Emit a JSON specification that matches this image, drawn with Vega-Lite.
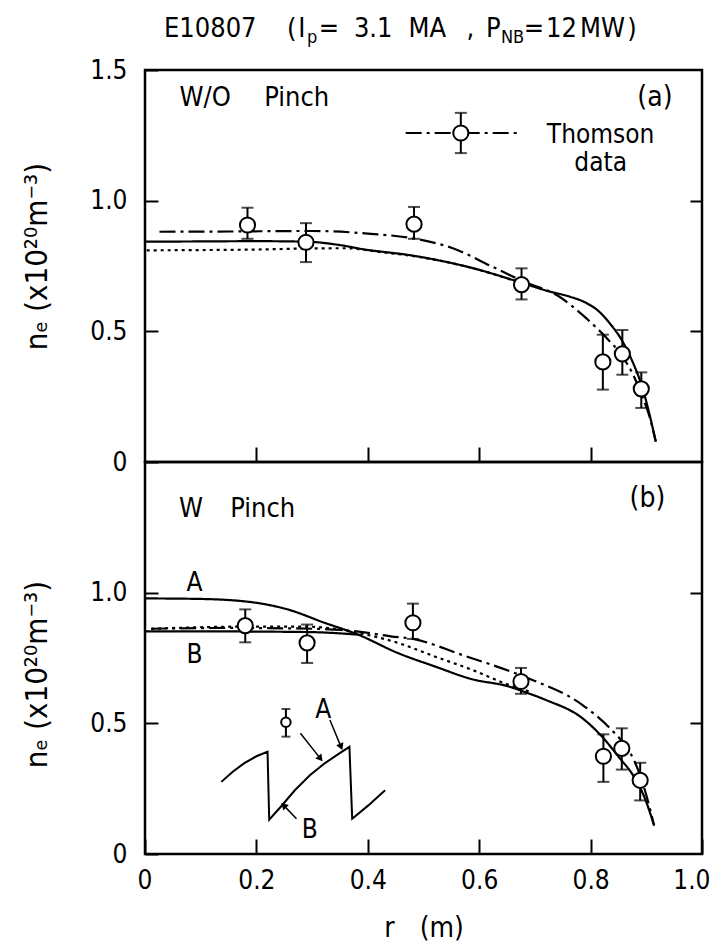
{
  "$schema": "https://vega.github.io/schema/vega-lite/v6.json",
  "padding": {"left": 20, "top": 13, "right": 0, "bottom": 0},
  "autosize": {"type": "pad"},
  "background": "white",
  "spacing": 0,
  "bounds": "flush",
  "config": {
    "font": "DejaVu Sans Condensed, DejaVu Sans, sans-serif",
    "view": {"stroke": "black", "strokeWidth": 2.5},
    "axis": {"domain": false, "grid": false, "tickColor": "black", "tickWidth": 2, "labelColor": "black", "titleColor": "black", "labelFontSize": 26, "titleFontSize": 28, "titleFontWeight": "normal", "labelFont": "DejaVu Sans Condensed, DejaVu Sans, sans-serif", "titleFont": "DejaVu Sans Condensed, DejaVu Sans, sans-serif"}
  },
  "datasets": {
    "a_lines": [
      {"id": "sim", "style": "solid", "r": 0.0, "n": 0.843},
      {"id": "sim", "style": "solid", "r": 0.1, "n": 0.844},
      {"id": "sim", "style": "solid", "r": 0.2, "n": 0.845},
      {"id": "sim", "style": "solid", "r": 0.29, "n": 0.843},
      {"id": "sim", "style": "solid", "r": 0.35, "n": 0.83},
      {"id": "sim", "style": "solid", "r": 0.392, "n": 0.814},
      {"id": "sim", "style": "solid", "r": 0.48, "n": 0.79},
      {"id": "sim", "style": "solid", "r": 0.59, "n": 0.741},
      {"id": "sim", "style": "solid", "r": 0.676, "n": 0.686},
      {"id": "sim", "style": "solid", "r": 0.722, "n": 0.655},
      {"id": "sim", "style": "solid", "r": 0.762, "n": 0.633},
      {"id": "sim", "style": "solid", "r": 0.789, "n": 0.612},
      {"id": "sim", "style": "solid", "r": 0.815, "n": 0.576},
      {"id": "sim", "style": "solid", "r": 0.835, "n": 0.529},
      {"id": "sim", "style": "solid", "r": 0.855, "n": 0.47},
      {"id": "sim", "style": "solid", "r": 0.874, "n": 0.39},
      {"id": "sim", "style": "solid", "r": 0.894, "n": 0.277},
      {"id": "sim", "style": "solid", "r": 0.907, "n": 0.171},
      {"id": "sim", "style": "solid", "r": 0.917, "n": 0.078},
      {"id": "fit", "style": "dashdot", "r": 0.026, "n": 0.881},
      {"id": "fit", "style": "dashdot", "r": 0.15, "n": 0.882},
      {"id": "fit", "style": "dashdot", "r": 0.3, "n": 0.884},
      {"id": "fit", "style": "dashdot", "r": 0.4, "n": 0.874},
      {"id": "fit", "style": "dashdot", "r": 0.48, "n": 0.856},
      {"id": "fit", "style": "dashdot", "r": 0.55, "n": 0.82},
      {"id": "fit", "style": "dashdot", "r": 0.623, "n": 0.748},
      {"id": "fit", "style": "dashdot", "r": 0.68, "n": 0.69},
      {"id": "fit", "style": "dashdot", "r": 0.742, "n": 0.635},
      {"id": "fit", "style": "dashdot", "r": 0.789, "n": 0.556},
      {"id": "fit", "style": "dashdot", "r": 0.828, "n": 0.476},
      {"id": "fit", "style": "dashdot", "r": 0.855, "n": 0.41},
      {"id": "fit", "style": "dashdot", "r": 0.875, "n": 0.34},
      {"id": "fit", "style": "dashdot", "r": 0.893, "n": 0.25},
      {"id": "fit", "style": "dashdot", "r": 0.907, "n": 0.165},
      {"id": "fit", "style": "dashdot", "r": 0.917, "n": 0.078},
      {"id": "dot", "style": "dotted", "r": 0.003, "n": 0.81},
      {"id": "dot", "style": "dotted", "r": 0.1, "n": 0.811},
      {"id": "dot", "style": "dotted", "r": 0.2, "n": 0.813},
      {"id": "dot", "style": "dotted", "r": 0.29, "n": 0.817},
      {"id": "dot", "style": "dotted", "r": 0.36, "n": 0.818},
      {"id": "dot", "style": "dotted", "r": 0.42, "n": 0.804},
      {"id": "dot", "style": "dotted", "r": 0.5, "n": 0.782},
      {"id": "dot", "style": "dotted", "r": 0.6, "n": 0.735},
      {"id": "dot", "style": "dotted", "r": 0.676, "n": 0.684},
      {"id": "leg", "style": "dashdot", "r": 0.468, "n": 1.259},
      {"id": "leg", "style": "dashdot", "r": 0.67, "n": 1.259}
    ],
    "a_pts": [
      {"r": 0.184, "n": 0.907, "lo": 0.854, "hi": 0.973},
      {"r": 0.289, "n": 0.841, "lo": 0.765, "hi": 0.914},
      {"r": 0.483, "n": 0.91, "lo": 0.854, "hi": 0.976},
      {"r": 0.676, "n": 0.679, "lo": 0.622, "hi": 0.741},
      {"r": 0.822, "n": 0.383, "lo": 0.277, "hi": 0.487},
      {"r": 0.857, "n": 0.414, "lo": 0.334, "hi": 0.505},
      {"r": 0.891, "n": 0.28, "lo": 0.207, "hi": 0.343},
      {"r": 0.567, "n": 1.259, "lo": 1.182, "hi": 1.336}
    ],
    "a_text": [
      {"pos": "left", "t": "W/O", "r": 0.062, "n": 1.391},
      {"pos": "left", "t": "Pinch", "r": 0.214, "n": 1.391},
      {"pos": "right", "t": "(a)", "r": 0.947, "n": 1.391},
      {"pos": "center", "t": "Thomson", "r": 0.818, "n": 1.252},
      {"pos": "center", "t": "data", "r": 0.818, "n": 1.146}
    ],
    "title_main": [
      {"t": "E10807", "r": 0.034, "n": 1.626},
      {"t": "(", "r": 0.255, "n": 1.626},
      {"t": "I", "r": 0.275, "n": 1.626},
      {"t": "=", "r": 0.312, "n": 1.626},
      {"t": "3.1", "r": 0.375, "n": 1.626},
      {"t": "MA", "r": 0.473, "n": 1.626},
      {"t": ",", "r": 0.577, "n": 1.626},
      {"t": "P", "r": 0.612, "n": 1.626},
      {"t": "=", "r": 0.68, "n": 1.626},
      {"t": "12", "r": 0.72, "n": 1.626},
      {"t": "MW", "r": 0.781, "n": 1.626},
      {"t": ")", "r": 0.866, "n": 1.626}
    ],
    "title_sub": [
      {"t": "p", "r": 0.291, "n": 1.603},
      {"t": "NB", "r": 0.639, "n": 1.603}
    ],
    "b_lines": [
      {"id": "A", "style": "solid", "r": 0.0, "n": 0.978},
      {"id": "A", "style": "solid", "r": 0.1, "n": 0.976},
      {"id": "A", "style": "solid", "r": 0.19, "n": 0.964},
      {"id": "A", "style": "solid", "r": 0.256, "n": 0.936},
      {"id": "A", "style": "solid", "r": 0.322, "n": 0.885},
      {"id": "A", "style": "solid", "r": 0.382, "n": 0.84},
      {"id": "A", "style": "solid", "r": 0.454, "n": 0.769},
      {"id": "A", "style": "solid", "r": 0.52, "n": 0.718},
      {"id": "A", "style": "solid", "r": 0.587, "n": 0.669},
      {"id": "A", "style": "solid", "r": 0.653, "n": 0.641},
      {"id": "A", "style": "solid", "r": 0.679, "n": 0.622},
      {"id": "A", "style": "solid", "r": 0.719, "n": 0.59},
      {"id": "A", "style": "solid", "r": 0.785, "n": 0.52},
      {"id": "A", "style": "solid", "r": 0.818, "n": 0.455},
      {"id": "A", "style": "solid", "r": 0.851, "n": 0.37},
      {"id": "A", "style": "solid", "r": 0.878, "n": 0.295},
      {"id": "A", "style": "solid", "r": 0.898, "n": 0.21},
      {"id": "A", "style": "solid", "r": 0.914, "n": 0.109},
      {"id": "B", "style": "solid", "r": 0.0, "n": 0.852},
      {"id": "B", "style": "solid", "r": 0.1, "n": 0.852},
      {"id": "B", "style": "solid", "r": 0.2, "n": 0.851},
      {"id": "B", "style": "solid", "r": 0.3, "n": 0.849},
      {"id": "B", "style": "solid", "r": 0.39, "n": 0.838},
      {"id": "dotB", "style": "dotted", "r": 0.011, "n": 0.862},
      {"id": "dotB", "style": "dotted", "r": 0.18, "n": 0.87},
      {"id": "dotB", "style": "dotted", "r": 0.29, "n": 0.87},
      {"id": "dotB", "style": "dotted", "r": 0.38, "n": 0.847},
      {"id": "dotB", "style": "dotted", "r": 0.454, "n": 0.808},
      {"id": "dotB", "style": "dotted", "r": 0.52, "n": 0.756},
      {"id": "dotB", "style": "dotted", "r": 0.587, "n": 0.705},
      {"id": "dotB", "style": "dotted", "r": 0.653, "n": 0.647},
      {"id": "dotB", "style": "dotted", "r": 0.69, "n": 0.622},
      {"id": "fitB", "style": "dashdot", "r": 0.011, "n": 0.862},
      {"id": "fitB", "style": "dashdot", "r": 0.15, "n": 0.865},
      {"id": "fitB", "style": "dashdot", "r": 0.3, "n": 0.862},
      {"id": "fitB", "style": "dashdot", "r": 0.38, "n": 0.852},
      {"id": "fitB", "style": "dashdot", "r": 0.441, "n": 0.833},
      {"id": "fitB", "style": "dashdot", "r": 0.481, "n": 0.823},
      {"id": "fitB", "style": "dashdot", "r": 0.573, "n": 0.759},
      {"id": "fitB", "style": "dashdot", "r": 0.653, "n": 0.701},
      {"id": "fitB", "style": "dashdot", "r": 0.692, "n": 0.669},
      {"id": "fitB", "style": "dashdot", "r": 0.785, "n": 0.571},
      {"id": "fitB", "style": "dashdot", "r": 0.838, "n": 0.474},
      {"id": "fitB", "style": "dashdot", "r": 0.864, "n": 0.41},
      {"id": "fitB", "style": "dashdot", "r": 0.878, "n": 0.359},
      {"id": "fitB", "style": "dashdot", "r": 0.898, "n": 0.24},
      {"id": "fitB", "style": "dashdot", "r": 0.914, "n": 0.109}
    ],
    "b_saw": [
      {"r": 0.137, "n": 0.276},
      {"r": 0.157, "n": 0.314},
      {"r": 0.177, "n": 0.346},
      {"r": 0.2, "n": 0.374},
      {"r": 0.22, "n": 0.391},
      {"r": 0.223, "n": 0.131},
      {"r": 0.243, "n": 0.179},
      {"r": 0.269, "n": 0.244},
      {"r": 0.296, "n": 0.301},
      {"r": 0.322, "n": 0.346},
      {"r": 0.349, "n": 0.385},
      {"r": 0.367, "n": 0.41},
      {"r": 0.372, "n": 0.135},
      {"r": 0.401, "n": 0.186},
      {"r": 0.431, "n": 0.244}
    ],
    "b_pts": [
      {"r": 0.18, "n": 0.874, "lo": 0.81, "hi": 0.936},
      {"r": 0.291, "n": 0.808, "lo": 0.731, "hi": 0.878},
      {"r": 0.481, "n": 0.885, "lo": 0.823, "hi": 0.958},
      {"r": 0.675, "n": 0.66, "lo": 0.613, "hi": 0.712},
      {"r": 0.823, "n": 0.374, "lo": 0.276, "hi": 0.458},
      {"r": 0.856, "n": 0.404, "lo": 0.323, "hi": 0.481},
      {"r": 0.889, "n": 0.282, "lo": 0.205, "hi": 0.349}
    ],
    "b_small": [
      {"r": 0.253, "n": 0.504, "lo": 0.449, "hi": 0.555}
    ],
    "b_arrows": [
      {"r": 0.279, "n": 0.462, "r2": 0.315, "n2": 0.365},
      {"r": 0.332, "n": 0.513, "r2": 0.352, "n2": 0.41},
      {"r": 0.272, "n": 0.135, "r2": 0.249, "n2": 0.186}
    ],
    "b_heads": [
      {"r": 0.315, "n": 0.365, "ang": 141},
      {"r": 0.352, "n": 0.41, "ang": 158},
      {"r": 0.249, "n": 0.186, "ang": 315}
    ],
    "b_text": [
      {"pos": "left", "t": "W", "r": 0.061, "n": 1.32},
      {"pos": "left", "t": "Pinch", "r": 0.153, "n": 1.32},
      {"pos": "right", "t": "(b)", "r": 0.934, "n": 1.359},
      {"pos": "center", "t": "A", "r": 0.089, "n": 1.038},
      {"pos": "center", "t": "B", "r": 0.089, "n": 0.763},
      {"pos": "center", "t": "A", "r": 0.32, "n": 0.551},
      {"pos": "center", "t": "B", "r": 0.296, "n": 0.09}
    ]
  },
  "vconcat": [
    {
      "width": 557,
      "height": 392,
      "encoding": {
        "x": {"field": "r", "type": "quantitative", "scale": {"domain": [0, 1], "nice": false, "zero": false},
          "axis": {"orient": "bottom", "values": [0.2, 0.4, 0.6, 0.8], "labels": false, "title": null, "tickSize": -15}},
        "y": {"field": "n", "type": "quantitative", "scale": {"domain": [0, 1.5], "nice": false}, "axis": null}
      },
      "layer": [
        {
          "data": {"name": "a_lines"},
          "mark": {"type": "line", "interpolate": "monotone", "strokeWidth": 2.2, "color": "black"},
          "encoding": {
            "y": {"field": "n", "type": "quantitative", "scale": {"domain": [0, 1.5], "nice": false},
              "axis": {"orient": "left", "values": [0, 0.5, 1, 1.5], "labelExpr": "datum.value == 0 ? '0' : format(datum.value, '.1f')", "tickSize": -13, "labelPadding": 31, "title": "nₑ (x10²⁰m⁻³)", "titlePadding": 36, "titleFontSize": 31, "titleY": 186}},
            "detail": {"field": "id"},
            "strokeDash": {"field": "style", "type": "nominal", "scale": {"domain": ["solid", "dashdot", "dotted"], "range": [[1, 0], [16, 5, 3, 5], [3, 4]]}, "legend": null}
          }
        },
        {
          "data": {"name": "a_pts"},
          "mark": {"type": "rule", "strokeWidth": 2, "color": "black"},
          "encoding": {
            "y": {"field": "lo", "type": "quantitative", "scale": {"domain": [0, 1.5], "nice": false}, "axis": null},
            "y2": {"field": "hi"}
          }
        },
        {
          "data": {"name": "a_pts"},
          "mark": {"type": "tick", "orient": "horizontal", "size": 12, "thickness": 2, "color": "black"},
          "encoding": {"y": {"field": "lo", "type": "quantitative", "scale": {"domain": [0, 1.5], "nice": false}, "axis": null}}
        },
        {
          "data": {"name": "a_pts"},
          "mark": {"type": "tick", "orient": "horizontal", "size": 12, "thickness": 2, "color": "black"},
          "encoding": {"y": {"field": "hi", "type": "quantitative", "scale": {"domain": [0, 1.5], "nice": false}, "axis": null}}
        },
        {
          "data": {"name": "a_pts"},
          "mark": {"type": "point", "shape": "circle", "filled": true, "fill": "white", "stroke": "black", "strokeWidth": 2, "size": 230, "opacity": 1},
          "encoding": {
            "y": {"field": "n", "type": "quantitative", "scale": {"domain": [0, 1.5], "nice": false},
              "axis": {"orient": "right", "values": [0.5, 1], "labels": false, "title": null, "tickSize": -12}}
          }
        },
        {
          "data": {"name": "a_text"},
          "transform": [{"filter": "datum.pos == 'left'"}],
          "mark": {"type": "text", "align": "left", "baseline": "middle", "fontSize": 27, "color": "black"},
          "encoding": {"text": {"field": "t"}}
        },
        {
          "data": {"name": "a_text"},
          "transform": [{"filter": "datum.pos == 'right'"}],
          "mark": {"type": "text", "align": "right", "baseline": "middle", "fontSize": 28, "color": "black"},
          "encoding": {"text": {"field": "t"}}
        },
        {
          "data": {"name": "a_text"},
          "transform": [{"filter": "datum.pos == 'center'"}],
          "mark": {"type": "text", "align": "center", "baseline": "middle", "fontSize": 26, "color": "black"},
          "encoding": {"text": {"field": "t"}}
        },
        {
          "data": {"name": "title_main"},
          "mark": {"type": "text", "align": "left", "baseline": "alphabetic", "fontSize": 27, "color": "black"},
          "encoding": {"text": {"field": "t"}}
        },
        {
          "data": {"name": "title_sub"},
          "mark": {"type": "text", "align": "left", "baseline": "alphabetic", "fontSize": 18, "color": "black"},
          "encoding": {"text": {"field": "t"}}
        }
      ],
      "resolve": {"axis": {"y": "independent"}}
    },
    {
      "width": 557,
      "height": 392,
      "encoding": {
        "x": {"field": "r", "type": "quantitative", "scale": {"domain": [0, 1], "nice": false, "zero": false},
          "axis": {"orient": "bottom", "values": [0, 0.2, 0.4, 0.6, 0.8, 1], "labelExpr": "datum.value == 0 ? '0' : format(datum.value, '.1f')", "labelFlush": true, "labelFlushOffset": 8, "tickSize": -15, "labelPadding": 28, "title": "r\u2002\u2002(m)", "titlePadding": 21}},
        "y": {"field": "n", "type": "quantitative", "scale": {"domain": [0, 1.5], "nice": false}, "axis": null}
      },
      "layer": [
        {
          "data": {"name": "b_lines"},
          "mark": {"type": "line", "interpolate": "monotone", "strokeWidth": 2.2, "color": "black"},
          "encoding": {
            "y": {"field": "n", "type": "quantitative", "scale": {"domain": [0, 1.5], "nice": false},
              "axis": {"orient": "left", "values": [0, 0.5, 1], "labelExpr": "datum.value == 0 ? '0' : format(datum.value, '.1f')", "tickSize": -13, "labelPadding": 31, "title": "nₑ (x10²⁰m⁻³)", "titlePadding": 36, "titleFontSize": 31, "titleY": 212}},
            "detail": {"field": "id"},
            "strokeDash": {"field": "style", "type": "nominal", "scale": {"domain": ["solid", "dashdot", "dotted"], "range": [[1, 0], [16, 5, 3, 5], [3, 4]]}, "legend": null}
          }
        },
        {
          "data": {"name": "b_saw"},
          "mark": {"type": "line", "interpolate": "linear", "strokeWidth": 2, "color": "black"},
          "encoding": {"y": {"field": "n", "type": "quantitative", "scale": {"domain": [0, 1.5], "nice": false}, "axis": null}}
        },
        {
          "data": {"name": "b_arrows"},
          "mark": {"type": "rule", "strokeWidth": 1.5, "color": "black"},
          "encoding": {
            "y": {"field": "n", "type": "quantitative", "scale": {"domain": [0, 1.5], "nice": false}, "axis": null},
            "x2": {"field": "r2"},
            "y2": {"field": "n2"}
          }
        },
        {
          "data": {"name": "b_heads"},
          "mark": {"type": "point", "shape": "triangle-up", "filled": true, "color": "black", "size": 60, "opacity": 1},
          "encoding": {
            "y": {"field": "n", "type": "quantitative", "scale": {"domain": [0, 1.5], "nice": false}, "axis": null},
            "angle": {"field": "ang", "type": "quantitative", "scale": {"domain": [0, 360], "range": [0, 360]}}
          }
        },
        {
          "data": {"name": "b_pts"},
          "mark": {"type": "rule", "strokeWidth": 2, "color": "black"},
          "encoding": {
            "y": {"field": "lo", "type": "quantitative", "scale": {"domain": [0, 1.5], "nice": false}, "axis": null},
            "y2": {"field": "hi"}
          }
        },
        {
          "data": {"name": "b_pts"},
          "mark": {"type": "tick", "orient": "horizontal", "size": 12, "thickness": 2, "color": "black"},
          "encoding": {"y": {"field": "lo", "type": "quantitative", "scale": {"domain": [0, 1.5], "nice": false}, "axis": null}}
        },
        {
          "data": {"name": "b_pts"},
          "mark": {"type": "tick", "orient": "horizontal", "size": 12, "thickness": 2, "color": "black"},
          "encoding": {"y": {"field": "hi", "type": "quantitative", "scale": {"domain": [0, 1.5], "nice": false}, "axis": null}}
        },
        {
          "data": {"name": "b_pts"},
          "mark": {"type": "point", "shape": "circle", "filled": true, "fill": "white", "stroke": "black", "strokeWidth": 2, "size": 230, "opacity": 1},
          "encoding": {
            "y": {"field": "n", "type": "quantitative", "scale": {"domain": [0, 1.5], "nice": false},
              "axis": {"orient": "right", "values": [0.5, 1], "labels": false, "title": null, "tickSize": -12}}
          }
        },
        {
          "data": {"name": "b_small"},
          "mark": {"type": "rule", "strokeWidth": 2, "color": "black"},
          "encoding": {
            "y": {"field": "lo", "type": "quantitative", "scale": {"domain": [0, 1.5], "nice": false}, "axis": null},
            "y2": {"field": "hi"}
          }
        },
        {
          "data": {"name": "b_small"},
          "mark": {"type": "tick", "orient": "horizontal", "size": 9, "thickness": 2, "color": "black"},
          "encoding": {"y": {"field": "lo", "type": "quantitative", "scale": {"domain": [0, 1.5], "nice": false}, "axis": null}}
        },
        {
          "data": {"name": "b_small"},
          "mark": {"type": "tick", "orient": "horizontal", "size": 9, "thickness": 2, "color": "black"},
          "encoding": {"y": {"field": "hi", "type": "quantitative", "scale": {"domain": [0, 1.5], "nice": false}, "axis": null}}
        },
        {
          "data": {"name": "b_small"},
          "mark": {"type": "point", "shape": "circle", "filled": true, "fill": "white", "stroke": "black", "strokeWidth": 2, "size": 90, "opacity": 1},
          "encoding": {"y": {"field": "n", "type": "quantitative", "scale": {"domain": [0, 1.5], "nice": false}, "axis": null}}
        },
        {
          "data": {"name": "b_text"},
          "transform": [{"filter": "datum.pos == 'left'"}],
          "mark": {"type": "text", "align": "left", "baseline": "middle", "fontSize": 27, "color": "black"},
          "encoding": {"text": {"field": "t"}}
        },
        {
          "data": {"name": "b_text"},
          "transform": [{"filter": "datum.pos == 'right'"}],
          "mark": {"type": "text", "align": "right", "baseline": "middle", "fontSize": 28, "color": "black"},
          "encoding": {"text": {"field": "t"}}
        },
        {
          "data": {"name": "b_text"},
          "transform": [{"filter": "datum.pos == 'center'"}],
          "mark": {"type": "text", "align": "center", "baseline": "middle", "fontSize": 26, "color": "black"},
          "encoding": {"text": {"field": "t"}}
        }
      ],
      "resolve": {"axis": {"y": "independent"}}
    }
  ]
}
